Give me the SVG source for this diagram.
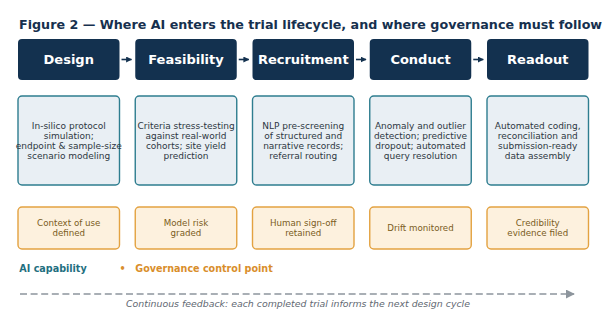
<svg xmlns="http://www.w3.org/2000/svg" width="610" height="328" viewBox="0 0 610 328">
<defs>
<style>
.title{font-family:"DejaVu Sans",sans-serif;font-weight:bold;font-size:12.7px;fill:#16304e}
.phase rect{fill:#13314f}
.phase text{font-family:"DejaVu Sans",sans-serif;font-weight:bold;font-size:13px;fill:#ffffff;text-anchor:middle}
.ai rect{fill:#e9eff4;stroke:#2e7d8f;stroke-width:1.4}
.ai text{font-family:"DejaVu Sans",sans-serif;font-size:9px;fill:#2d3742;text-anchor:middle}
.gov rect{fill:#fdf1de;stroke:#e3a241;stroke-width:1.4}
.gov text{font-family:"DejaVu Sans",sans-serif;font-size:8.7px;fill:#7a5c22;text-anchor:middle}
.leg{font-family:"DejaVu Sans",sans-serif;font-weight:bold;font-size:9.6px}
.foot{font-family:"DejaVu Sans",sans-serif;font-style:italic;font-size:9.4px;fill:#5f6872;text-anchor:middle}
</style>
<marker id="ah" viewBox="0 0 10 10" refX="9" refY="5" markerWidth="6" markerHeight="6" markerUnits="userSpaceOnUse" orient="auto">
<path d="M0,0 L10,5 L0,10 z" fill="#13314f"/>
</marker>
<marker id="ahg" viewBox="0 0 10 10" refX="9" refY="5" markerWidth="9" markerHeight="9" markerUnits="userSpaceOnUse" orient="auto">
<path d="M0,0 L10,5 L0,10 z" fill="#8d959d"/>
</marker>
</defs>
<rect width="610" height="328" fill="#ffffff"/>
<text class="title" x="19" y="29">Figure 2 — Where AI enters the trial lifecycle, and where governance must follow</text>

<g id="design" class="phase"><rect x="18" y="39" width="101.5" height="41" rx="4"/><text x="68.75" y="64">Design</text></g>
<g id="feasibility" class="phase"><rect x="135.25" y="39" width="101.5" height="41" rx="4"/><text x="186" y="64">Feasibility</text></g>
<g id="recruitment" class="phase"><rect x="252.5" y="39" width="101.5" height="41" rx="4"/><text x="303.25" y="64">Recruitment</text></g>
<g id="conduct" class="phase"><rect x="369.75" y="39" width="101.5" height="41" rx="4"/><text x="420.5" y="64">Conduct</text></g>
<g id="readout" class="phase"><rect x="487" y="39" width="101.5" height="41" rx="4"/><text x="537.75" y="64">Readout</text></g>

<g id="connectors" stroke="#13314f" stroke-width="1.6" fill="none">
<path d="M121.5,59.5 H131.5" marker-end="url(#ah)"/>
<path d="M238.75,59.5 H248.75" marker-end="url(#ah)"/>
<path d="M356,59.5 H366" marker-end="url(#ah)"/>
<path d="M473.25,59.5 H483.25" marker-end="url(#ah)"/>
<path d="M20,294 H574" stroke="#8d959d" stroke-width="1.5" stroke-dasharray="7,3.6" marker-end="url(#ahg)"/>
</g>

<g id="ai-design" class="ai"><rect x="18" y="96" width="101.5" height="89" rx="4"/>
<text x="68.75" y="128.5">In-silico protocol</text><text x="68.75" y="138.6">simulation;</text><text x="68.75" y="148.7">endpoint &amp; sample-size</text><text x="68.75" y="158.8">scenario modeling</text></g>
<g id="ai-feasibility" class="ai"><rect x="135.25" y="96" width="101.5" height="89" rx="4"/>
<text x="186" y="128.5">Criteria stress-testing</text><text x="186" y="138.6">against real-world</text><text x="186" y="148.7">cohorts; site yield</text><text x="186" y="158.8">prediction</text></g>
<g id="ai-recruitment" class="ai"><rect x="252.5" y="96" width="101.5" height="89" rx="4"/>
<text x="303.25" y="128.5">NLP pre-screening</text><text x="303.25" y="138.6">of structured and</text><text x="303.25" y="148.7">narrative records;</text><text x="303.25" y="158.8">referral routing</text></g>
<g id="ai-conduct" class="ai"><rect x="369.75" y="96" width="101.5" height="89" rx="4"/>
<text x="420.5" y="128.5">Anomaly and outlier</text><text x="420.5" y="138.6">detection; predictive</text><text x="420.5" y="148.7">dropout; automated</text><text x="420.5" y="158.8">query resolution</text></g>
<g id="ai-readout" class="ai"><rect x="487" y="96" width="101.5" height="89" rx="4"/>
<text x="537.75" y="128.5">Automated coding,</text><text x="537.75" y="138.6">reconciliation and</text><text x="537.75" y="148.7">submission-ready</text><text x="537.75" y="158.8">data assembly</text></g>

<g id="gov-design" class="gov"><rect x="18" y="207" width="101.5" height="42" rx="4"/>
<text x="68.75" y="226">Context of use</text><text x="68.75" y="235.5">defined</text></g>
<g id="gov-feasibility" class="gov"><rect x="135.25" y="207" width="101.5" height="42" rx="4"/>
<text x="186" y="226">Model risk</text><text x="186" y="235.5">graded</text></g>
<g id="gov-recruitment" class="gov"><rect x="252.5" y="207" width="101.5" height="42" rx="4"/>
<text x="303.25" y="226">Human sign-off</text><text x="303.25" y="235.5">retained</text></g>
<g id="gov-conduct" class="gov"><rect x="369.75" y="207" width="101.5" height="42" rx="4"/>
<text x="420.5" y="230.8">Drift monitored</text></g>
<g id="gov-readout" class="gov"><rect x="487" y="207" width="101.5" height="42" rx="4"/>
<text x="537.75" y="226">Credibility</text><text x="537.75" y="235.5">evidence filed</text></g>

<g id="legend">
<text class="leg" x="19.3" y="272" fill="#1f6f80">AI capability</text>
<text class="leg" x="119.5" y="272" fill="#d98e2b">•</text>
<text class="leg" x="135.3" y="272" fill="#d98e2b">Governance control point</text>
</g>
<text class="foot" x="298" y="307">Continuous feedback: each completed trial informs the next design cycle</text>
</svg>
